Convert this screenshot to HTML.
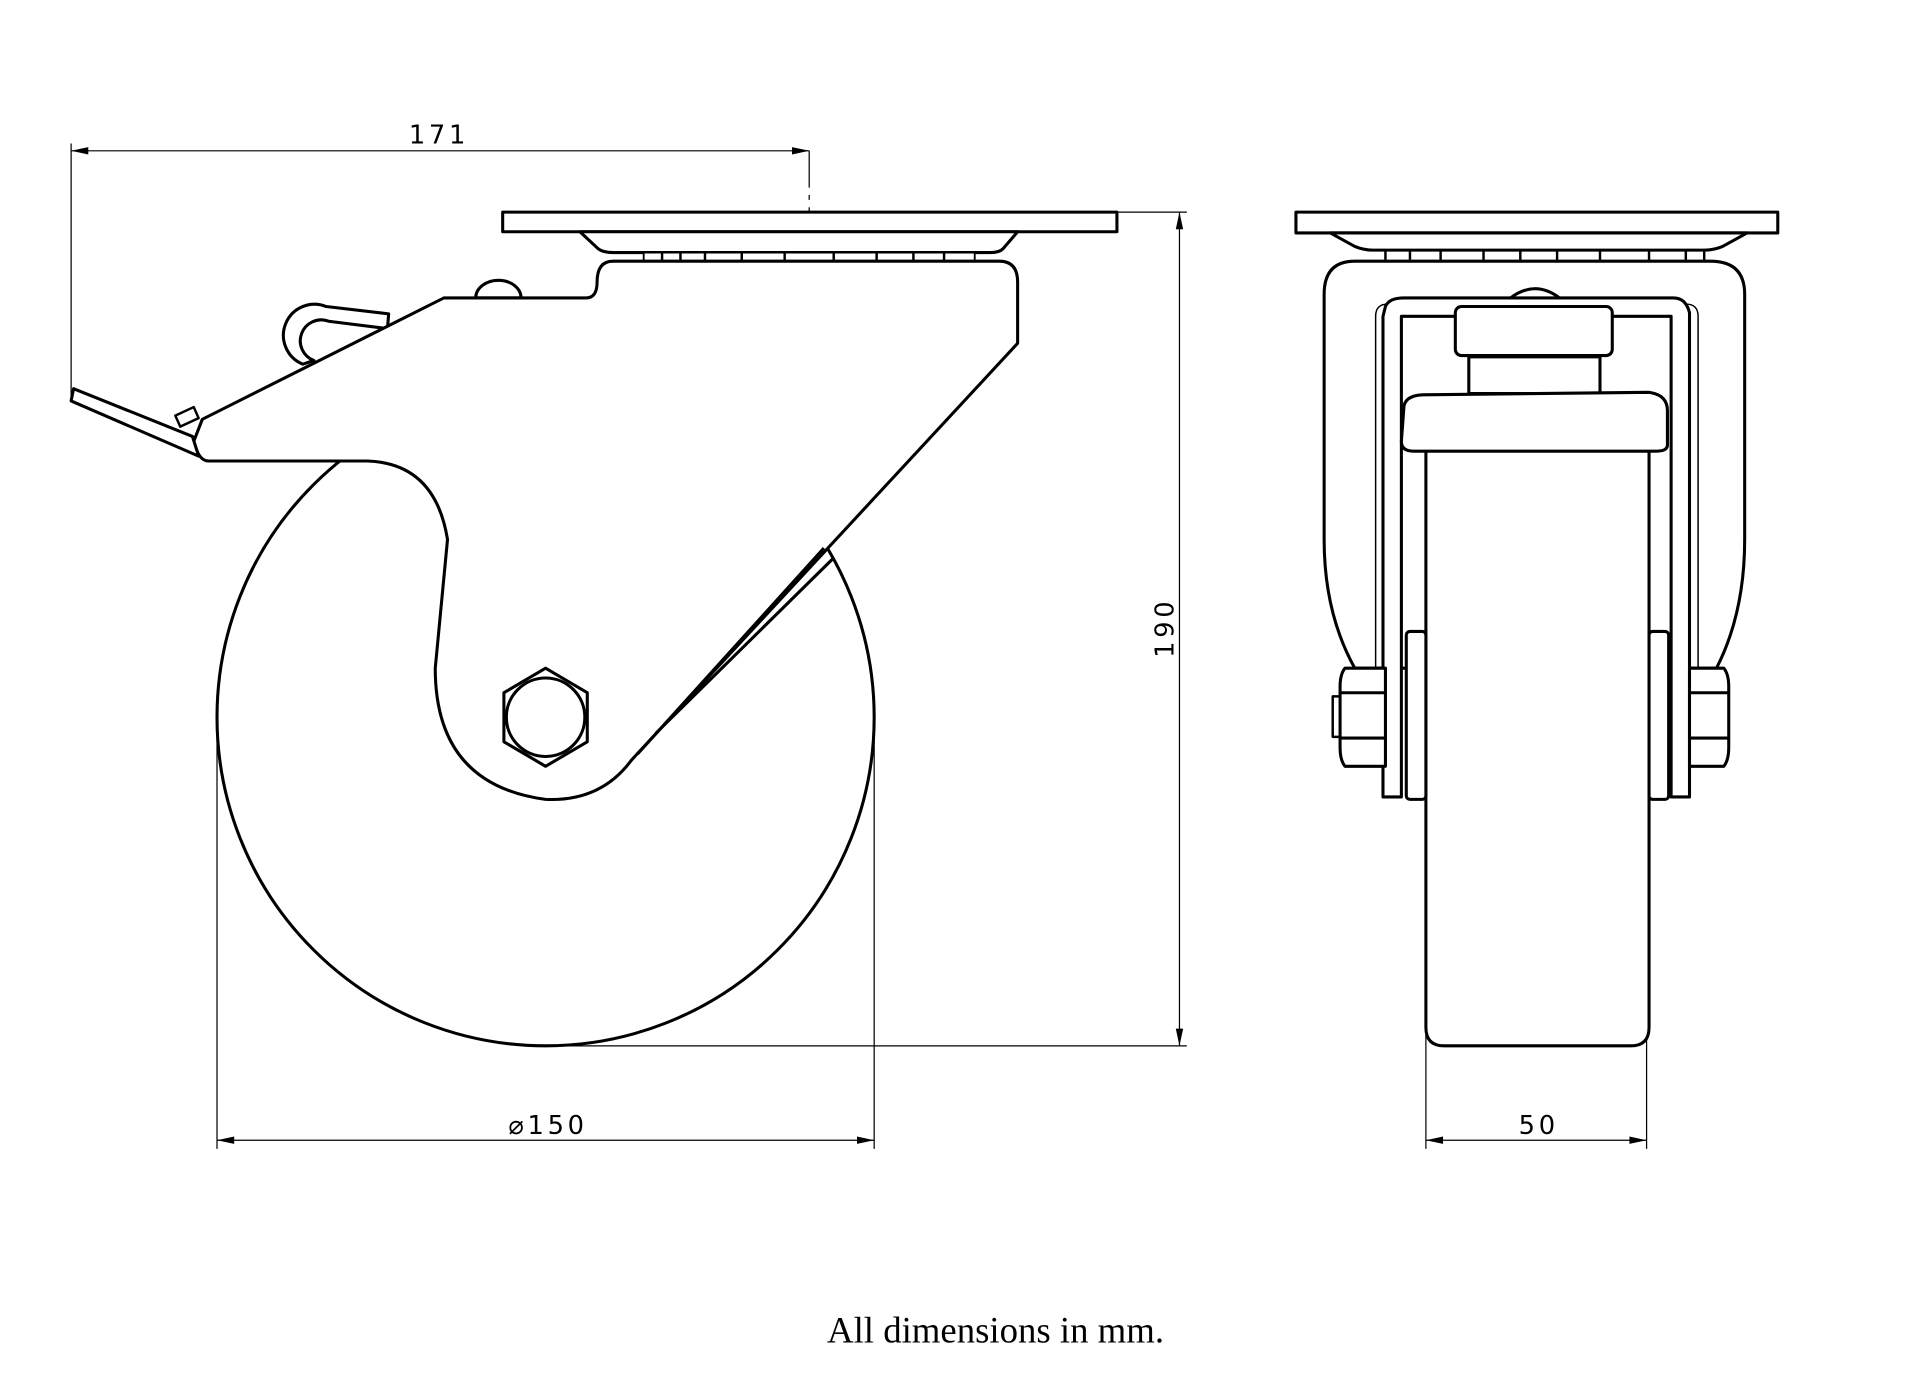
<!DOCTYPE html>
<html><head><meta charset="utf-8"><style>
html,body{margin:0;padding:0;background:#fff;}
svg{display:block;}
text{font-family:"DejaVu Sans","Liberation Sans",sans-serif;fill:#000;}
</style></head><body>
<svg width="1920" height="1383" viewBox="0 0 1566 1128" xmlns="http://www.w3.org/2000/svg">
<g fill="none" stroke="#000" stroke-width="1">
<line x1="58" y1="117" x2="58" y2="325"/>
<line x1="58" y1="123" x2="660" y2="123"/>
<line x1="660" y1="123" x2="660" y2="297" stroke-dasharray="30,6,4,6"/>
<line x1="177" y1="585" x2="177" y2="937"/>
<line x1="713" y1="585" x2="713" y2="937"/>
<line x1="445" y1="853" x2="968" y2="853"/>
<line x1="911" y1="173" x2="968" y2="173"/>
<line x1="962" y1="173" x2="962" y2="853"/>
<line x1="177" y1="930" x2="713" y2="930"/>
<line x1="1163" y1="840" x2="1163" y2="937"/>
<line x1="1343" y1="840" x2="1343" y2="937"/>
<line x1="1163" y1="930" x2="1343" y2="930"/>
</g>
<g fill="#000">
<path d="M58,123 l14,-3 v6z"/><path d="M660,123 l-14,-3 v6z"/>
<path d="M177,930 l14,-3 v6z"/><path d="M713,930 l-14,-3 v6z"/>
<path d="M962,173 l-3,14 h6z"/><path d="M962,853 l-3,-14 h6z"/>
<path d="M1163,930 l14,-3 v6z"/><path d="M1343,930 l-14,-3 v6z"/>
</g>
<g fill="#fff" stroke="#000" stroke-width="2.5" stroke-linejoin="round">
<circle cx="445" cy="585" r="268"/>
<path d="M247,297 A24,24 0 0 1 266,250 L317,256 L316,268 L268,262 A14,14 0 0 0 256,294 Z"/>
<path d="M388,243 A18,14 0 0 1 425,243 Z"/>
<rect x="410" y="173" width="501" height="16"/>
<path d="M473,189 L488,203 Q492,206 500,206 L808,206 Q815,206 818,203 L830,189 Z"/>
<path d="M525,206 h270 v7 h-270z" stroke-width="1.5"/>
<path d="M170,376 L300,376 Q355,378 365,440 L355,545 Q355,640 445,652 Q490,654 515,620 L830,280 L830,230 Q830,213 815,213 L500,213 Q487,213 487,230 Q487,243 478,243 L362,243 L165,342 L158,360 Q162,376 170,376 Z"/>
<path d="M672,447 L520,615 M680,455 L535,598" fill="none"/>
<path d="M60,317 L157,356 L162,372 L58,327 Z"/>
<path d="M143,339 L158,332 L162,341 L147,348 Z" stroke-width="2"/>
<polygon points="445,545 479,565 479,605 445,625 411,605 411,565"/>
<circle cx="445" cy="585" r="32"/>
</g>
<g stroke="#000" stroke-width="2">
<path d="M540,206 v7 M555,206 v7 M575,206 v7 M605,206 v7 M640,206 v7 M680,206 v7 M715,206 v7 M745,206 v7 M770,206 v7"/>
<path d="M1130,204 v8 M1150,204 v8 M1175,204 v8 M1210,204 v8 M1240,204 v8 M1270,204 v8 M1305,204 v8 M1345,204 v8 M1375,204 v8 M1390,204 v8"/>
</g>
<g fill="#fff" stroke="#000" stroke-width="2.5" stroke-linejoin="round">
<rect x="1057" y="173" width="393" height="17"/>
<path d="M1085,190 L1105,201 Q1112,204 1120,204 L1390,204 Q1398,204 1405,201 L1425,190 Z"/>
<path d="M1125,213 L1395,213 Q1423,213 1423,240 L1423,440 Q1423,500 1400,545 L1105,545 Q1080,500 1080,440 L1080,240 Q1080,213 1105,213 Z"/>
<path d="M1130,250 Q1133,243 1145,243 L1365,243 Q1375,243 1378,255 L1378,650 L1363,650 L1363,258 L1143,258 L1143,650 L1128,650 L1128,258 Z"/>
<path d="M1122,545 L1122,258 Q1122,248 1132,248 M1385,545 L1385,258 Q1385,248 1375,248" fill="none" stroke-width="1.2"/>
<path d="M1232,243 Q1252,228 1272,243" fill="none"/>
<rect x="1187" y="250" width="128" height="40" rx="5"/>
<rect x="1198" y="291" width="107" height="30"/>
<path d="M1163,365 L1345,365 L1345,838 Q1345,853 1330,853 L1178,853 Q1163,853 1163,838 Z"/>
<rect x="1147" y="515" width="16" height="137" rx="3"/>
<rect x="1345" y="515" width="16" height="137" rx="3"/>
<path d="M1145,333 Q1145,323 1160,322 L1345,320 Q1360,322 1360,335 L1360,363 Q1360,368 1350,368 L1153,368 Q1143,368 1143,360 Z"/>
<rect x="1087" y="568" width="7" height="33" stroke-width="2"/>
<path d="M1097,545 L1130,545 L1130,625 L1097,625 Q1093,620 1093,610 L1093,560 Q1093,550 1097,545 Z"/>
<path d="M1094,565 L1130,565 M1094,602 L1130,602" fill="none"/>
<path d="M1378,545 L1406,545 Q1410,550 1410,560 L1410,610 Q1410,620 1406,625 L1378,625 Z"/>
<path d="M1378,565 L1409,565 M1378,602 L1409,602" fill="none"/>
</g>
<g font-size="21" letter-spacing="3">
<text x="358" y="117" text-anchor="middle">171</text>
<text x="447" y="925" text-anchor="middle">⌀150</text>
<text x="1255" y="925" text-anchor="middle">50</text>
<text transform="translate(957,512) rotate(-90)" text-anchor="middle">190</text>
</g>
<text x="812" y="1095" text-anchor="middle" font-size="30" style="font-family:'Liberation Serif',serif">All dimensions in mm.</text>
</svg>
</body></html>
